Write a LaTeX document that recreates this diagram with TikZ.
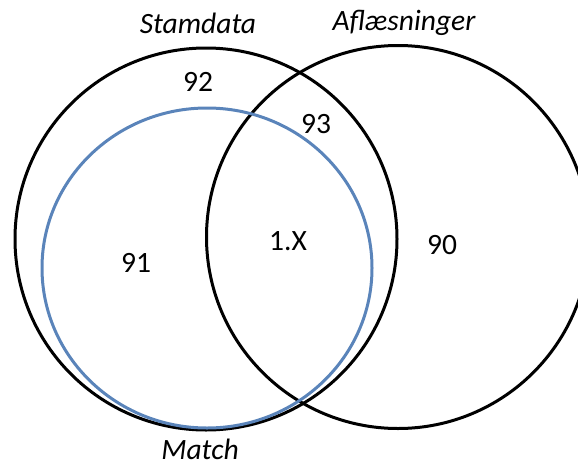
\documentclass[tikz,border=0pt]{standalone}
\usepackage{fontspec}
\setmainfont{Carlito}
\definecolor{matchblue}{HTML}{5A84BA}
\begin{document}
\begin{tikzpicture}[x=1pt,y=-1pt,
  setline/.style={line width=3pt},
  lbl/.style={font=\fontsize{29.5}{34}\selectfont\itshape, inner sep=0pt},
  num/.style={font=\fontsize{29.5}{34}\selectfont, inner sep=0pt}]
\useasboundingbox (0,0) rectangle (578,466);
\begin{scope}
\clip (0,0) rectangle (578,466);
\draw[setline] (206,239) circle[radius=191];
\draw[setline] (398,237) circle[radius=191.5];
\draw[setline, matchblue] (207,268) ellipse[x radius=165, y radius=160];
\end{scope}
\node[lbl] (stam) at (198,23) {Stamdata};
\node[lbl] (afl) at (404,23) {Aflæsninger};
\node[lbl] (match) at (200,449) {Match};
\node[num] (n92) at (198,82) {92};
\node[num] (n93) at (316,124) {93};
\node[num] (n91) at (136,263) {91};
\node[num] (n1x) at (288,241) {1.X};
\node[num] (n90) at (442,245) {90};
\end{tikzpicture}
\end{document}
